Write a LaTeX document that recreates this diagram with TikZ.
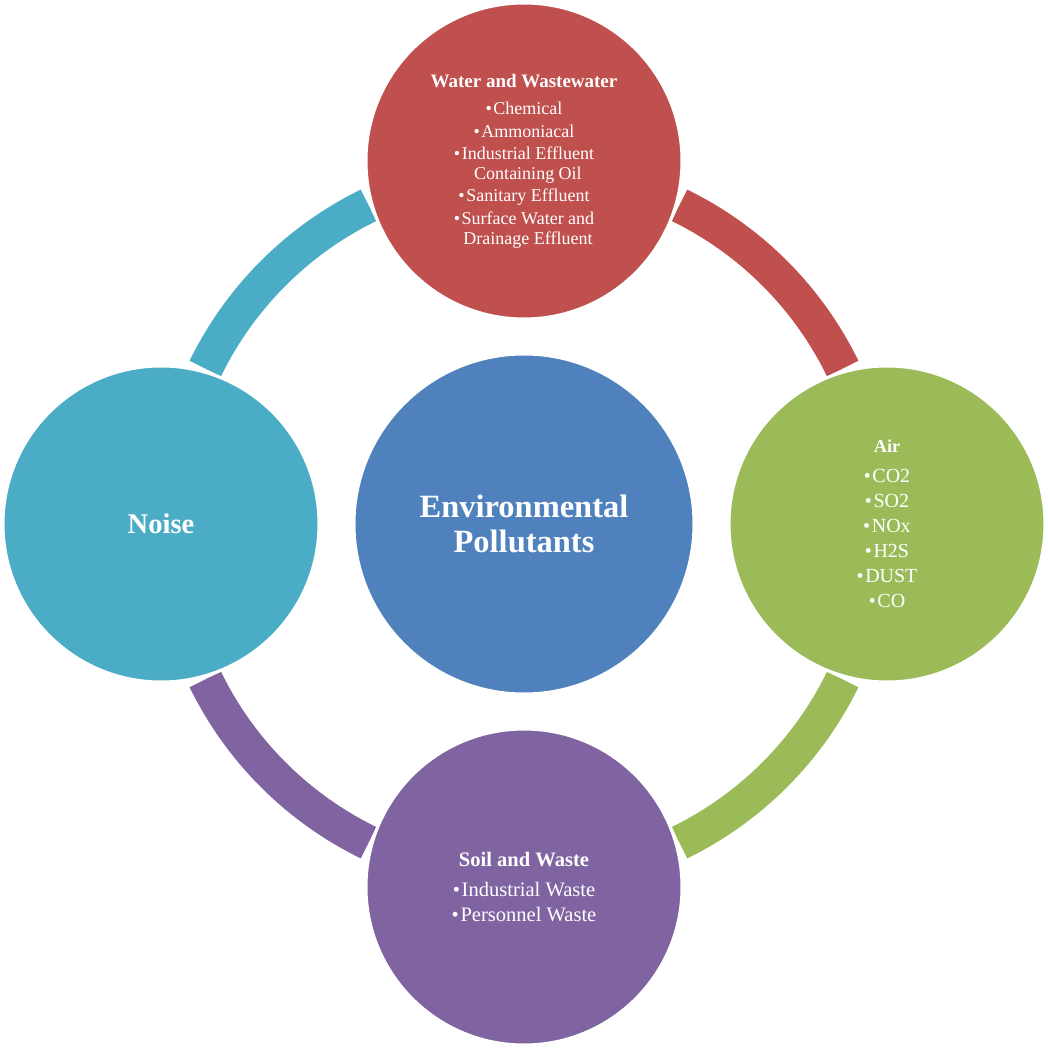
\documentclass[tikz,border=0pt]{standalone}
\usepackage{fontspec}
\setmainfont{Liberation Serif}

\definecolor{redW}{HTML}{C0504D}
\definecolor{greenA}{HTML}{9BBB59}
\definecolor{purpleS}{HTML}{8064A2}
\definecolor{tealN}{HTML}{4BACC6}
\definecolor{blueC}{HTML}{4F81BD}

\newcommand{\pb}{•\hspace{1.2pt}}

\tikzset{
	blob/.style = {circle, draw = white, line width = 2.2pt, inner sep = 0pt, text = white, align = center, minimum size = 7.9cm},
	band/.style = {line width = 0.875cm}
}

\begin{document}
\begin{tikzpicture}[x = 0.025cm, y = 0.025cm]

\useasboundingbox (-524, -524) rectangle (524, 524);

\foreach \a/\c in {26/redW, -64/greenA, 206/purpleS, 116/tealN} {
	\draw[band, \c] (\a:8.8625cm) arc[start angle = \a, end angle = \a + 38, radius = 8.8625cm];
}

\node[blob, fill = blueC, minimum size = 8.5cm, font = \fontsize{23.1}{24.9}\selectfont\bfseries] (env) at (0, 0) {Environmental\\Pollutants};

\node[blob, fill = redW, font = \fontsize{12.8}{13.9}\selectfont] (water) at (0, 363)
	{{\fontsize{13.5}{13.9}\selectfont\bfseries Water and Wastewater}\\[5.8pt]
	\pb Chemical\\[2.1pt]
	\pb Ammoniacal\\[2.1pt]
	\pb Industrial Effluent\\
	\phantom{\pb}Containing Oil\\[2.1pt]
	\pb Sanitary Effluent\\[2.1pt]
	\pb Surface Water and\\
	\phantom{\pb}Drainage Effluent};

\node[blob, fill = greenA, font = \fontsize{14.2}{17.8}\selectfont] (air) at (363, 0)
	{{\fontsize{13}{17.8}\selectfont\bfseries Air}\\[3.5pt]
	\pb CO2\\ \pb SO2\\ \pb NOx\\ \pb H2S\\ \pb DUST\\ \pb CO};

\node[blob, fill = purpleS, font = \fontsize{14.6}{17.8}\selectfont] (soil) at (0, -363)
	{{\bfseries Soil and Waste}\\[4pt]
	\pb Industrial Waste\\
	\pb Personnel Waste};

\node[blob, fill = tealN, font = \fontsize{20.3}{22}\selectfont\bfseries] (noise) at (-363, 0) {Noise};

\end{tikzpicture}
\end{document}
